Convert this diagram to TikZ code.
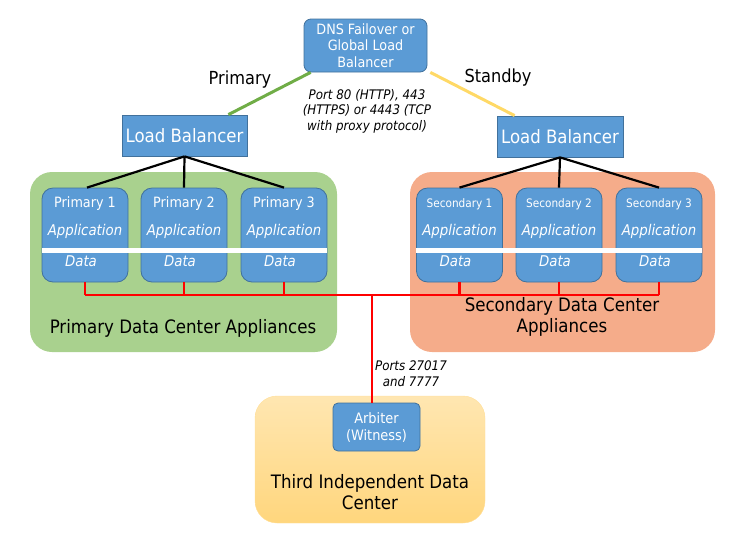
\documentclass[tikz,border=0pt]{standalone}
\usepackage{fontspec}
\setmainfont{DejaVu Sans Condensed}
\usetikzlibrary{calc}

\definecolor{boxblue}{RGB}{91,155,213}
\definecolor{boxedge}{RGB}{65,113,156}
\definecolor{dcgreen}{RGB}{169,209,142}
\definecolor{dcsalmon}{RGB}{245,172,138}
\definecolor{dcyellow}{RGB}{255,214,125}
\definecolor{linkgreen}{RGB}{112,173,71}
\definecolor{linkyellow}{RGB}{255,217,102}

\tikzset{
  bluebox/.style={draw=boxedge, fill=boxblue, line width=0.8pt, text=white, align=center, inner sep=0pt},
  server/.style={bluebox, rounded corners=11pt, minimum width=86pt, minimum height=94pt},
  dcbox/.style={rounded corners=22pt, inner sep=0pt},
  srvtext/.style={text=white, font=\fontsize{14.2}{16}\selectfont},
  srvsmall/.style={text=white, font=\fontsize{11.7}{13}\selectfont},
  apptext/.style={text=white, font=\fontsize{14.8}{17}\selectfont\itshape},
  dctext/.style={align=center, font=\fontsize{18.5}{21}\selectfont},
  note/.style={align=center, font=\fontsize{13.2}{15.5}\selectfont\itshape},
  fan/.style={line width=2.2pt},
  bus/.style={red, line width=2.8pt},
}

\begin{document}
\begin{tikzpicture}[x=1pt, y=-1pt]
  \useasboundingbox (0,0) rectangle (750,542);

  %%%%% data centres %%%%%
  \node[dcbox, fill=dcgreen, minimum width=307pt, minimum height=180pt] (dcA) at (183.5,262) {};
  \node[dcbox, fill=dcsalmon, minimum width=305pt, minimum height=180pt] (dcB) at (562.5,262) {};
  \node[dcbox, top color=dcyellow!60!white, bottom color=dcyellow, draw=dcyellow!80!white, minimum width=230pt, minimum height=127pt] (dcC) at (370,459.5) {};

  \node[dctext] (dcAtxt) at (183,328) {Primary Data Center Appliances};
  \node[dctext] (dcBtxt) at (562,317) {Secondary Data Center\\Appliances};
  \node[dctext] (dcCtxt) at (370,492) {Third Independent Data\\Center};

  %%%%% top %%%%%
  \node[bluebox, rounded corners=7pt, minimum width=123pt, minimum height=53pt, font=\fontsize{14.2}{16.5}\selectfont] (dns) at (365.5,45.5) {DNS Failover or\\Global Load\\Balancer};

  \node[bluebox, minimum width=125pt, minimum height=41pt, font=\fontsize{18.4}{20}\selectfont] (lbA) at (184.5,135.5) {Load Balancer};
  \node[bluebox, minimum width=126pt, minimum height=41pt, font=\fontsize{18.4}{20}\selectfont] (lbB) at (560,136.5) {Load Balancer};

  \draw[linkgreen, line width=3pt] ([xshift=7pt]dns.south west) -- ([xshift=-19pt]lbA.north east);
  \draw[linkyellow, line width=3pt] ([xshift=3pt]dns.south east) -- ([xshift=18pt]lbB.north west);

  \node[font=\fontsize{18}{20}\selectfont] (lblA) at (240,80) {Primary};
  \node[font=\fontsize{18}{20}\selectfont] (lblB) at (498,78) {Standby};
  \node[note] (ports) at (367,111) {Port 80 (HTTP), 443\\(HTTPS) or 4443 (TCP\\with proxy protocol)};

  %%%%% servers %%%%%
  \foreach \n/\x in {1/85, 2/184, 3/284} {
    \node[server] (p\n) at (\x,235) {};
    \node[srvtext] (p\n t) at (\x,204) {Primary \n};
    \node[apptext] (p\n a) at (\x,231) {Application};
  }
  \foreach \n/\x in {1/459.5, 2/559, 3/659} {
    \node[server] (s\n) at (\x,235) {};
    \node[srvsmall] (s\n t) at (\x,204) {Secondary \n};
    \node[apptext] (s\n a) at (\x,231) {Application};
  }
  \fill[white] (p1.west |- 0,248) rectangle (p3.east |- 0,252.5);
  \fill[white] (s1.west |- 0,248) rectangle (s3.east |- 0,252.5);
  \foreach \k in {p1,p2,p3,s1,s2,s3}
    \node[apptext] (\k d) at ($(\k) + (-4,26)$) {Data};

  \draw[fan] (lbA.south) -- ([xshift=2pt]p1.north);
  \draw[fan] (lbA.south) -- (p2.north);
  \draw[fan] (lbA.south) -- (p3.north);
  \draw[fan] (lbB.south) -- (s1.north);
  \draw[fan] (lbB.south) -- (s2.north);
  \draw[fan] (lbB.south) -- (s3.north);

  %%%%% replication bus %%%%%
  \coordinate (busL) at (p1.south |- 0,295);
  \coordinate (busR) at (s3.south |- 0,295);
  \coordinate (tap) at (372,295);
  \draw[bus] (busL) -- (busR);
  \foreach \k in {p1,p2,p3,s1,s2,s3}
    \draw[bus] (\k.south) -- (\k.south |- busL);

  \node[bluebox, rounded corners=5pt, minimum width=87pt, minimum height=48pt, font=\fontsize{14.4}{17}\selectfont] (arb) at (376.5,427) {Arbiter\\(Witness)};
  \draw[bus] (tap) -- (tap |- arb.north);
  \node[note] (wport) at (411,373.5) {Ports 27017\\and 7777};
\end{tikzpicture}
\end{document}
